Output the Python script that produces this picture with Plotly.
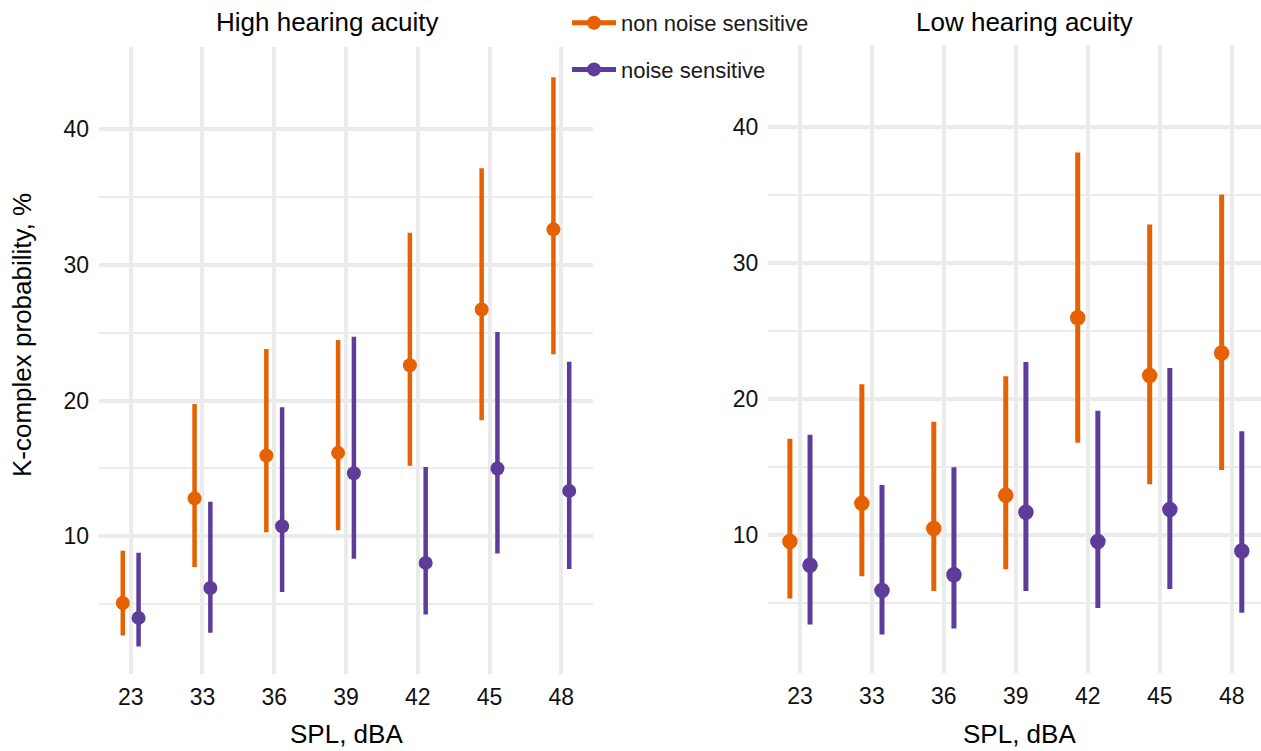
import plotly.graph_objects as go

# SPL levels (dBA) shown on both panels
spl_levels = ["23", "33", "36", "39", "42", "45", "48"]

# High hearing acuity: K-complex probability (%) with interval bounds
high_non_est = [5.1, 12.8, 15.95, 16.15, 22.6, 26.7, 32.6]
high_non_lo = [2.7, 7.75, 10.3, 10.45, 15.2, 18.55, 23.4]
high_non_hi = [8.95, 19.75, 23.8, 24.45, 32.35, 37.1, 43.8]

high_sens_est = [4.0, 6.2, 10.75, 14.65, 8.05, 15.0, 13.35]
high_sens_lo = [1.9, 2.9, 5.9, 8.35, 4.25, 8.75, 7.6]
high_sens_hi = [8.8, 12.55, 19.5, 24.7, 15.1, 25.05, 22.85]

# Low hearing acuity
low_non_est = [9.5, 12.3, 10.45, 12.9, 25.95, 21.7, 23.35]
low_non_lo = [5.3, 6.95, 5.85, 7.45, 16.75, 13.7, 14.75]
low_non_hi = [17.05, 21.05, 18.3, 21.65, 38.1, 32.8, 35.0]

low_sens_est = [7.75, 5.9, 7.05, 11.65, 9.5, 11.85, 8.8]
low_sens_lo = [3.4, 2.65, 3.1, 5.85, 4.6, 6.0, 4.25]
low_sens_hi = [17.35, 13.65, 14.95, 22.7, 19.1, 22.25, 17.6]

group_names = ["non noise sensitive", "noise sensitive"]
group_colors = ["#E66101", "#5E3C99"]

W, H = 1261, 751
FONT = "Liberation Sans, Arial, sans-serif"
GRID = "#EBEBEB"


def px_x(x):
    return x / W


def px_y(y):
    return 1 - y / H


def pointrange(est, lo, hi, color, dodge, xaxis, yaxis, lw, ms):
    xs = [i + dodge for i in range(len(est))]
    return go.Scatter(
        x=xs, y=est, mode="markers", xaxis=xaxis, yaxis=yaxis,
        showlegend=False, hoverinfo="skip",
        marker=dict(color=color, size=ms, line=dict(width=0)),
        error_y=dict(type="data", symmetric=False,
                     array=[h - e for h, e in zip(hi, est)],
                     arrayminus=[e - l for e, l in zip(est, lo)],
                     width=0, thickness=lw, color=color),
    )


fig = go.Figure()

panels = [
    ("x", "y", 0.11, 4.5, 14,
     [(high_non_est, high_non_lo, high_non_hi), (high_sens_est, high_sens_lo, high_sens_hi)]),
    ("x2", "y2", 0.14, 5.0, 15.5,
     [(low_non_est, low_non_lo, low_non_hi), (low_sens_est, low_sens_lo, low_sens_hi)]),
]
for xa, ya, dodge, lw, ms, series in panels:
    for k, (est, lo, hi) in enumerate(series):
        d = -dodge if k == 0 else dodge
        fig.add_trace(pointrange(est, lo, hi, group_colors[k], d, xa, ya, lw, ms))

# legend keys
for k, name in enumerate(group_names):
    fig.add_trace(go.Scatter(
        x=[None], y=[None], mode="lines+markers", name=name,
        legendgroup=name, showlegend=True,
        line=dict(color=group_colors[k], width=5),
        marker=dict(color=group_colors[k], size=14),
    ))

xcommon = dict(
    range=[-0.44, 6.44], tickmode="array", tickvals=list(range(7)), ticktext=spl_levels,
    showgrid=True, gridcolor=GRID, gridwidth=4, zeroline=False, showline=False,
    ticks="", tickfont=dict(family=FONT, size=23, color="#111111"),
    ticklabelstandoff=7, fixedrange=True,
)
ycommon = dict(
    range=[-0.15, 46.0], tickmode="array", tickvals=[10, 20, 30, 40],
    showgrid=True, gridcolor=GRID, gridwidth=4, zeroline=False, showline=False,
    ticks="", tickfont=dict(family=FONT, size=23, color="#111111"),
    ticklabelstandoff=9, fixedrange=True,
    minor=dict(tickmode="array", tickvals=[5, 15, 25, 35], showgrid=True,
               gridcolor=GRID, gridwidth=2, ticks=""),
)

fig.update_layout(
    width=W, height=H,
    margin=dict(l=0, r=0, t=0, b=0),
    paper_bgcolor="white", plot_bgcolor="white",
    xaxis=dict(xcommon, domain=[px_x(99.1), px_x(592.9)], anchor="y"),
    yaxis=dict(ycommon, domain=[px_y(674.3), px_y(47.3)], anchor="x"),
    xaxis2=dict(xcommon, domain=[px_x(768.3), 1.0], anchor="y2",
                range=[-0.44, 6.407]),
    yaxis2=dict(ycommon, domain=[px_y(672.7), px_y(45.0)], anchor="x2"),
    legend=dict(
        x=px_x(567), y=px_y(2), xanchor="left", yanchor="top",
        font=dict(family=FONT, size=22, color="#1a1a1a"),
        bgcolor="rgba(0,0,0,0)", tracegroupgap=15, itemwidth=44,
        traceorder="grouped",
    ),
    showlegend=True,
)

ann = [
    dict(text="High hearing acuity", x=px_x(327), y=px_y(22), size=26),
    dict(text="Low hearing acuity", x=px_x(1024), y=px_y(22), size=26),
    dict(text="SPL, dBA", x=px_x(346), y=px_y(734), size=26),
    dict(text="SPL, dBA", x=px_x(1019), y=px_y(734), size=26),
]
for a in ann:
    fig.add_annotation(
        text=a["text"], x=a["x"], y=a["y"], xref="paper", yref="paper",
        xanchor="center", yanchor="middle", showarrow=False,
        font=dict(family=FONT, size=a["size"], color="black"),
    )
fig.add_annotation(
    text="K-complex probability, %", x=px_x(22), y=px_y(335), xref="paper", yref="paper",
    xanchor="center", yanchor="middle", showarrow=False, textangle=-90,
    font=dict(family=FONT, size=26, color="black"),
)

fig.write_html("out.html")
